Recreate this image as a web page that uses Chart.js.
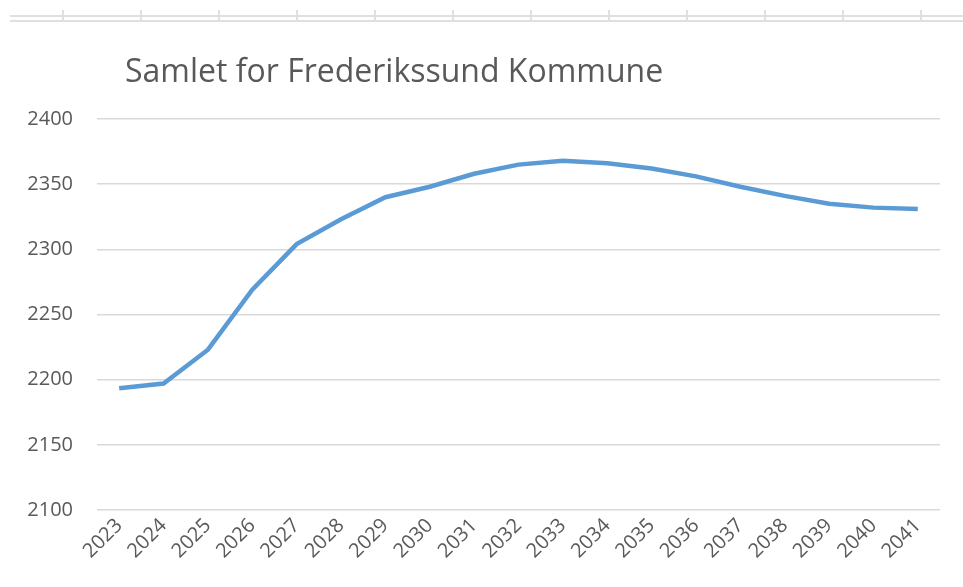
<!DOCTYPE html>
<html>
<head>
<meta charset="utf-8">
<script src="https://cdn.jsdelivr.net/npm/chart.js@4/dist/chart.umd.min.js"></script>
<style>
  html, body { margin: 0; padding: 0; background: #ffffff; }
  #wrap { position: relative; width: 963px; height: 587px; overflow: hidden; }
  #title { position: absolute; left: 125px; top: 48px; font-family: "Open Sans", sans-serif; font-size: 32px; color: #595959; white-space: nowrap; letter-spacing: 0px; }
  canvas { position: absolute; left: 0; top: 0; }
</style>
</head>
<body>
<div id="wrap">
  <canvas id="c" width="963" height="587"></canvas>
  <div id="title">Samlet for Frederikssund Kommune</div>
</div>
<script>
const years = ["2023","2024","2025","2026","2027","2028","2029","2030","2031","2032","2033","2034","2035","2036","2037","2038","2039","2040","2041"];
const totals = [2193.5, 2197, 2223, 2269, 2304, 2323, 2340, 2348, 2358, 2365, 2368, 2366, 2362, 2356, 2348, 2341, 2335, 2332, 2331];
const yMin = 2100, yMax = 2400, yStep = 50;

const sheetGrid = {
  id: 'sheetGrid',
  beforeDraw(chart) {
    const ctx = chart.ctx;
    ctx.save();
    ctx.strokeStyle = '#e0e0e0';
    ctx.lineWidth = 2;
    ctx.beginPath();
    ctx.moveTo(10, 16); ctx.lineTo(963, 16);
    ctx.moveTo(10, 21); ctx.lineTo(963, 21);
    for (let x = 63; x < 963; x += 78) {
      ctx.moveTo(x, 10); ctx.lineTo(x, 22);
    }
    ctx.stroke();
    ctx.restore();
  }
};

new Chart(document.getElementById('c'), {
  type: 'line',
  data: {
    labels: years,
    datasets: [{
      data: totals,
      borderColor: '#5B9BD5',
      borderWidth: 4.5,
      pointRadius: 0,
      fill: false,
      tension: 0
    }]
  },
  options: {
    responsive: false,
    animation: false,
    devicePixelRatio: 1,
    layout: { padding: { left: 0, right: 23, top: 119, bottom: 0 } },
    plugins: { legend: { display: false }, title: { display: false }, tooltip: { enabled: false } },
    scales: {
      x: {
        offset: true,
        grid: { display: false, drawTicks: false },
        border: { display: false },
        ticks: { color: '#595959', font: { family: 'Open Sans', size: 20 }, minRotation: 45, maxRotation: 45, padding: 4, autoSkip: false },
        afterFit(s) { s.height = 77; }
      },
      y: {
        min: yMin, max: yMax,
        grid: { color: '#d9d9d9', lineWidth: 1.5, drawTicks: false },
        border: { display: false },
        ticks: { stepSize: yStep, color: '#595959', font: { family: 'Open Sans', size: 20 }, padding: 24, callback: v => String(v) },
        afterFit(s) { s.width = 97; }
      }
    }
  },
  plugins: [sheetGrid]
});
</script>
</body>
</html>
